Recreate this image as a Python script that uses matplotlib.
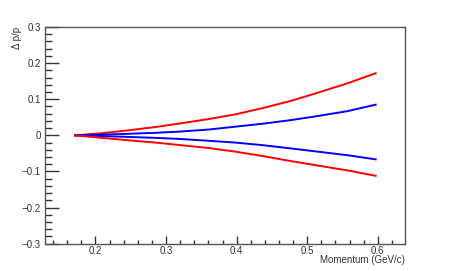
import numpy as np
import matplotlib.pyplot as plt
from matplotlib.ticker import MultipleLocator

# momentum (GeV/c) and relative resolution bands
momentum = [0.171, 0.21, 0.249, 0.285, 0.320, 0.360, 0.398, 0.436, 0.476, 0.510, 0.557, 0.597]
red_upper = [0.0, 0.006, 0.0145, 0.023, 0.033, 0.045, 0.058, 0.075, 0.095, 0.115, 0.144, 0.172]
blue_upper = [0.0, 0.002, 0.0045, 0.007, 0.0105, 0.016, 0.024, 0.032, 0.042, 0.052, 0.067, 0.085]
blue_lower = [0.0, -0.002, -0.0045, -0.007, -0.010, -0.015, -0.020, -0.027, -0.036, -0.044, -0.055, -0.0665]
red_lower = [0.0, -0.007, -0.014, -0.020, -0.027, -0.035, -0.045, -0.057, -0.071, -0.082, -0.097, -0.112]

plt.rcParams['font.family'] = ['Liberation Sans', 'DejaVu Sans']

fig = plt.figure(figsize=(4.5, 2.71), dpi=100)
ax = fig.add_axes([45 / 450, 1 - 243.7 / 271, 360 / 450, 216.7 / 271])

for item, color in [(red_upper, '#ff0000'), (blue_upper, '#0000ff'),
                    (blue_lower, '#0000ff'), (red_lower, '#ff0000')]:
    ax.plot(momentum, item, color=color, linewidth=1.4)

ax.set_xlim(0.1285, 0.6385)
ax.set_ylim(-0.3, 0.3)
ax.xaxis.set_major_locator(MultipleLocator(0.1))
ax.xaxis.set_minor_locator(MultipleLocator(0.02))
ax.yaxis.set_major_locator(MultipleLocator(0.1))
ax.yaxis.set_minor_locator(MultipleLocator(0.02))

ax.tick_params(which='both', direction='in', labelsize=7, colors='#333333', width=1)
ax.tick_params(axis='y', which='major', length=10, pad=3)
ax.tick_params(axis='y', which='minor', length=5)
ax.tick_params(axis='x', which='major', length=6, pad=2)
ax.tick_params(axis='x', which='minor', length=3)
ax.set_yticklabels([('\u22120.%d' % -round(v * 10)) if v < -1e-9 else ('0' if abs(v) < 1e-9 else '%.1f' % v)
                    for v in ax.get_yticks()])
ax.set_xticks(ax.get_xticks())
ax.set_xticklabels(['%.1f' % v for v in ax.get_xticks()])
ax.set_xlim(0.1285, 0.6385)

for s in ax.spines.values():
    s.set_color('#555555')
    s.set_linewidth(1)

fig.text(405 / 450, 1 - 265 / 271, 'Momentum (GeV/c)', ha='right', va='bottom',
         fontsize=7, color='#333333')
fig.text(17 / 450, 1 - 27 / 271, '\u0394 p/p', ha='center', va='top', rotation=90,
         fontsize=7, color='#333333')

fig.savefig('out.png', dpi=100)
